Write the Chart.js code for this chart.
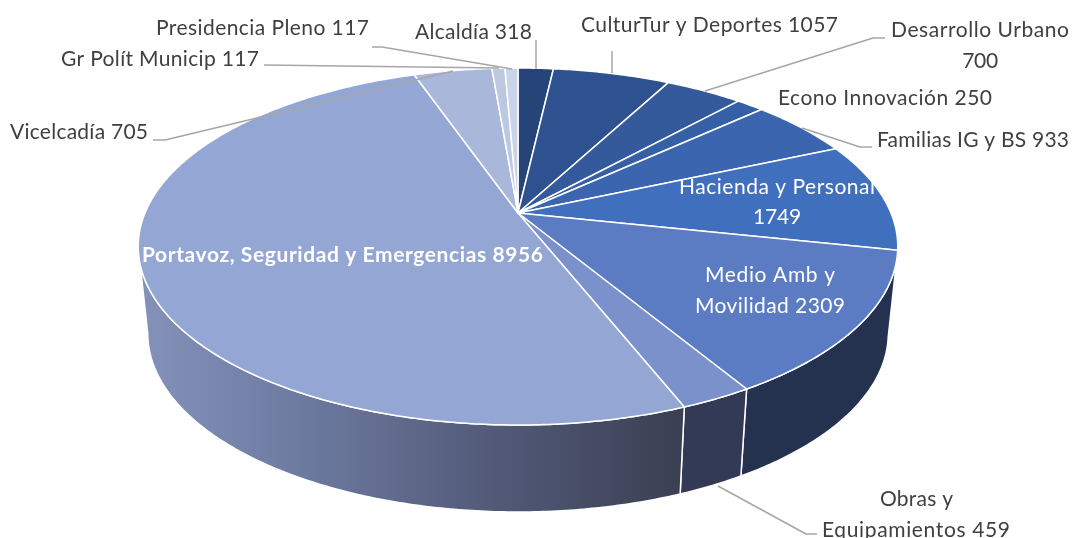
<!DOCTYPE html>
<html>
<head>
<meta charset="utf-8">
<style>html,body{margin:0;padding:0;background:#fff;overflow:hidden}canvas{display:block}</style>
<script src="https://cdn.jsdelivr.net/npm/chart.js@4"></script>
</head>
<body>
<canvas id="c" width="1073" height="538"></canvas>
<script>
const categories = ["Alcaldía","CulturTur y Deportes","Desarrollo Urbano","Econo Innovación","Familias IG y BS","Hacienda y Personal","Medio Amb y Movilidad","Obras y Equipamientos","Portavoz, Seguridad y Emergencias","Vicelcadía","Gr Polít Municip","Presidencia Pleno"];
const values = [318,1057,700,250,933,1749,2309,459,8956,705,117,117];
const topColors = ["#264478","#2e5190","#345a9b","#3660a6","#3c65b0","#406fbd","#5b7bc3","#7a91cb","#93a6d4","#a9b7da","#bcc7e2","#c9d3e9"];
const wallColors = ["#1a2f54","#1f3864","#23406c","#264478","#294878","#2a4a80","#24324f","#333a55",null,"#6f7a99","#7d88a5","#8a94ad"];

// text placed as [text, x, baseline, align, colour, target width, bold]
const labelLayout = [
  ["Alcaldía 318",415,39,"left","#404040",117],
  ["CulturTur y Deportes 1057",581,32,"left","#404040",257],
  ["Desarrollo Urbano",891,37,"left","#404040",178],
  ["700",980,68,"center","#404040",36],
  ["Econo Innovación 250",778,105,"left","#404040",214],
  ["Familias IG y BS 933",877,147,"left","#404040",192],
  ["Hacienda y Personal",679,194,"left","#ffffff",196],
  ["1749",777,224,"center","#ffffff",48],
  ["Medio Amb y",705,282,"left","#ffffff",130],
  ["Movilidad 2309",695,313,"left","#ffffff",150],
  ["Obras y",880,506,"left","#404040",73],
  ["Equipamientos 459",822,537,"left","#404040",188],
  ["Presidencia Pleno 117",156,35,"left","#404040",213],
  ["Gr Polít Municip 117",61,66,"left","#404040",198],
  ["Vicelcadía 705",10,139,"left","#404040",138],
  ["Portavoz, Seguridad y Emergencias 8956",142,262,"left","#ffffff",401,true]
];
const leaderLines = [
  [[536,40],[536,69]],
  [[612,51],[612,73]],
  [[885,38],[873,38],[705,91]],
  [[872,147],[860,147],[802,128]],
  [[372,47],[382,47],[512,69]],
  [[264,65],[499,68]],
  [[153,140],[165,140],[453,71]],
  [[718,486],[806,534],[817,534]]
];

// perspective of the disc
const view = {cx:518, k:0.1877, Rx:373, Ry:172.2};
const topPlane = {cy:213, sx:1, sy:1};
const lowPlane = {cy:300, sx:0.975, sy:1};

function project(angle, plane){
  const t = angle + Math.PI/2;                 // 0 at twelve o'clock
  const u = Math.sin(t), v = -Math.cos(t), w = 1 - view.k*v;
  return [view.cx + view.Rx*plane.sx*u/w, plane.cy + view.Ry*plane.sy*v/w];
}
function rim(ctx, a0, a1, plane, first){
  const n = Math.max(2, Math.ceil(Math.abs(a1-a0)/0.01));
  for(let i=0;i<=n;i++){
    const p = project(a0+(a1-a0)*i/n, plane);
    if(i===0 && first) ctx.moveTo(p[0],p[1]); else ctx.lineTo(p[0],p[1]);
  }
}

// top faces: the library's arcs, drawn through the projection
Chart.ArcElement.prototype.draw = function(ctx){
  const o = this.options;
  ctx.save();
  ctx.beginPath();
  ctx.moveTo(view.cx, topPlane.cy);
  rim(ctx, this.startAngle, this.endAngle, topPlane, false);
  ctx.closePath();
  ctx.fillStyle = o.backgroundColor;
  ctx.fill();
  ctx.lineJoin = "round";
  ctx.lineWidth = 1.5;
  ctx.strokeStyle = "#ffffff";
  ctx.stroke();
  ctx.restore();
};

const walls = {
  id:"walls",
  beforeDatasetsDraw(chart){
    const ctx = chart.ctx, arcs = chart.getDatasetMeta(0).data;
    const grad = ctx.createLinearGradient(140,0,682,0);
    grad.addColorStop(0,"#8492ba");
    grad.addColorStop(0.3,"#6d7aa0");
    grad.addColorStop(0.65,"#525a78");
    grad.addColorStop(1,"#3a3f52");
    // only the part of the rim that faces the viewer has a wall
    const tangent = Math.acos(-view.k);
    const from = tangent - Math.PI/2, to = 2*Math.PI - tangent - Math.PI/2;
    arcs.forEach((a,i)=>{
      const s = Math.max(a.startAngle, from), e = Math.min(a.endAngle, to);
      if(e <= s) return;
      ctx.beginPath();
      rim(ctx, s, e, topPlane, true);
      rim(ctx, e, s, lowPlane, false);
      ctx.closePath();
      ctx.fillStyle = wallColors[i] || grad;
      ctx.fill();
      ctx.lineWidth = 1.5;
      ctx.lineJoin = "round";
      ctx.strokeStyle = "#ffffff";
      ctx.stroke();
    });
  }
};

const annotations = {
  id:"annotations",
  afterDraw(chart){
    const ctx = chart.ctx;
    ctx.save();
    ctx.strokeStyle = "#a6a6a6";
    ctx.lineWidth = 1.5;
    for(const line of leaderLines){
      ctx.beginPath();
      line.forEach((p,i)=> i ? ctx.lineTo(p[0],p[1]) : ctx.moveTo(p[0],p[1]));
      ctx.stroke();
    }
    ctx.textBaseline = "alphabetic";
    for(const [text,x,y,align,color,width,bold] of labelLayout){
      ctx.font = (bold?"bold ":"")+"21px Lato";
      ctx.letterSpacing = "0px";
      const gap = (width-ctx.measureText(text).width)/Math.max(1,text.length-1);
      ctx.letterSpacing = gap.toFixed(3)+"px";
      ctx.textAlign = align;
      ctx.fillStyle = color;
      ctx.fillText(text,x,y);
    }
    ctx.restore();
  }
};

new Chart(document.getElementById("c"),{
  type:"pie",
  data:{labels:categories,datasets:[{data:values,backgroundColor:topColors,borderWidth:0}]},
  options:{
    responsive:false,
    animation:false,
    events:[],
    plugins:{legend:{display:false},tooltip:{enabled:false}}
  },
  plugins:[walls,annotations]
});
</script>
</body>
</html>
